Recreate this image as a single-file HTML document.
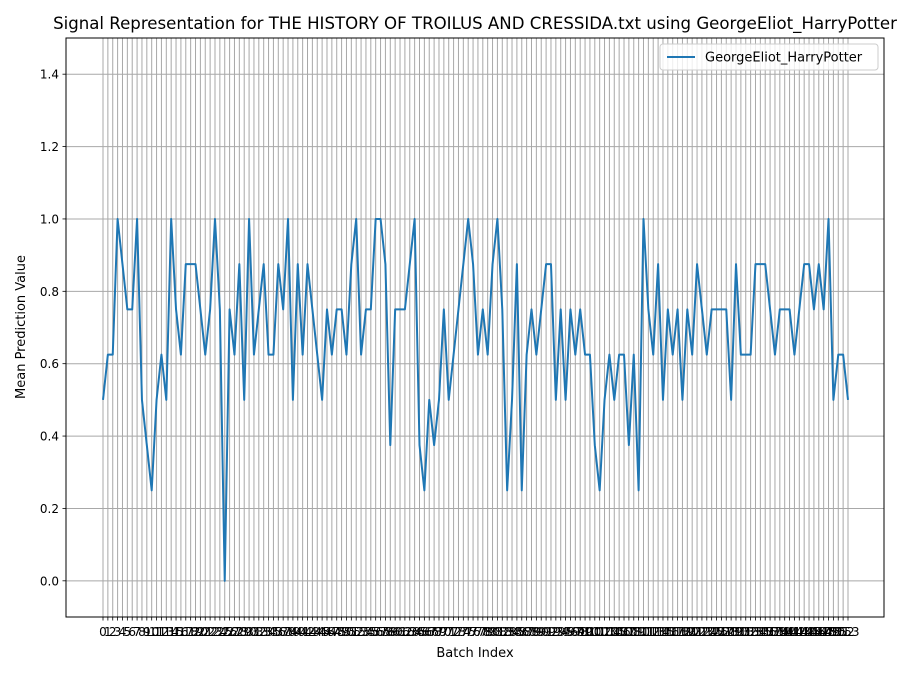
<!DOCTYPE html>
<html><head><meta charset="utf-8"><style>
body{margin:0;background:#fff;font-family:"DejaVu Sans","Liberation Sans",sans-serif}
</style></head><body>
<svg id="chart" width="900" height="675" xmlns="http://www.w3.org/2000/svg" font-family="DejaVu Sans, Liberation Sans, sans-serif"></svg>
<script>
const values=[0.5,0.625,0.625,1,0.875,0.75,0.75,1,0.5,0.375,0.25,0.5,0.625,0.5,1,0.75,0.625,0.875,0.875,0.875,
0.75,0.625,0.75,1,0.75,0,0.75,0.625,0.875,0.5,1,0.625,0.75,0.875,0.625,0.625,0.875,0.75,1,0.5,
0.875,0.625,0.875,0.75,0.625,0.5,0.75,0.625,0.75,0.75,0.625,0.875,1,0.625,0.75,0.75,1,1,0.875,0.375,
0.75,0.75,0.75,0.875,1,0.375,0.25,0.5,0.375,0.5,0.75,0.5,0.625,0.75,0.875,1,0.875,0.625,0.75,0.625,
0.875,1,0.75,0.25,0.5,0.875,0.25,0.625,0.75,0.625,0.75,0.875,0.875,0.5,0.75,0.5,0.75,0.625,0.75,0.625,
0.625,0.375,0.25,0.5,0.625,0.5,0.625,0.625,0.375,0.625,0.25,1,0.75,0.625,0.875,0.5,0.75,0.625,0.75,0.5,
0.75,0.625,0.875,0.75,0.625,0.75,0.75,0.75,0.75,0.5,0.875,0.625,0.625,0.625,0.875,0.875,0.875,0.75,0.625,0.75,
0.75,0.75,0.625,0.75,0.875,0.875,0.75,0.875,0.75,1,0.5,0.625,0.625,0.5];
const yTicks=[0,0.2,0.4,0.6,0.8,1.0,1.2,1.4];
const seriesName="GeorgeEliot_HarryPotter";
const L=66,R=884,T=38,B=617,yMin=-0.1,yMax=1.5;
const n=values.length;
const xs=i=>103+i*(848-103)/(n-1);
const ys=v=>B-(v-yMin)/(yMax-yMin)*(B-T);
const svg=document.getElementById('chart');
const NS='http://www.w3.org/2000/svg';
function mk(t,a,txt){const e=document.createElementNS(NS,t);for(const k in a)e.setAttribute(k,a[k]);if(txt!==undefined)e.textContent=txt;svg.appendChild(e);return e;}
let e;
e=mk('rect',{x:L,y:T,width:R-L,height:B-T,fill:'#fff'});


for(let i=0;i<n;i++){
 e=mk('line',{x1:xs(i),x2:xs(i),y1:T,y2:B,stroke:'#a8a8a8','stroke-width':1});
 
 
 e=mk('line',{x1:xs(i),x2:xs(i),y1:B,y2:B+3.5,stroke:'#000','stroke-width':0.8});
 
 
 e=mk('text',{x:xs(i),y:B+19,'font-size':12,'text-anchor':'middle'},String(i));
 
 
}
yTicks.forEach(v=>{
 e=mk('line',{x1:L,x2:R,y1:ys(v),y2:ys(v),stroke:'#a8a8a8','stroke-width':1});
 
 
 e=mk('line',{x1:L-3.5,x2:L,y1:ys(v),y2:ys(v),stroke:'#000','stroke-width':0.8});
 
 
 e=mk('text',{x:L-7,y:ys(v)+4.5,'font-size':12,'text-anchor':'end'},v.toFixed(1));
 
 
});
e=mk('polyline',{points:values.map((v,i)=>xs(i)+','+ys(v)).join(' '),fill:'none',stroke:'#1f77b4','stroke-width':2,'stroke-linejoin':'round'});


e=mk('rect',{x:L,y:T,width:R-L,height:B-T,fill:'none',stroke:'#000','stroke-width':1});


e=mk('text',{x:475,y:29,'font-size':16.6,'text-anchor':'middle'},'Signal Representation for THE HISTORY OF TROILUS AND CRESSIDA.txt using GeorgeEliot_HarryPotter');


e=mk('text',{x:475,y:657,'font-size':13,'text-anchor':'middle'},'Batch Index');


e=mk('text',{x:25,y:327,'font-size':13,'text-anchor':'middle',transform:'rotate(-90 25 327)'},'Mean Prediction Value');


e=mk('rect',{x:660,y:44,width:218,height:26,rx:3,fill:'#fff','fill-opacity':0.8,stroke:'#ccc'});


e=mk('line',{x1:667,x2:695,y1:57,y2:57,stroke:'#1f77b4','stroke-width':2});


e=mk('text',{x:705,y:61.5,'font-size':13},seriesName);


</script>
</body></html>
